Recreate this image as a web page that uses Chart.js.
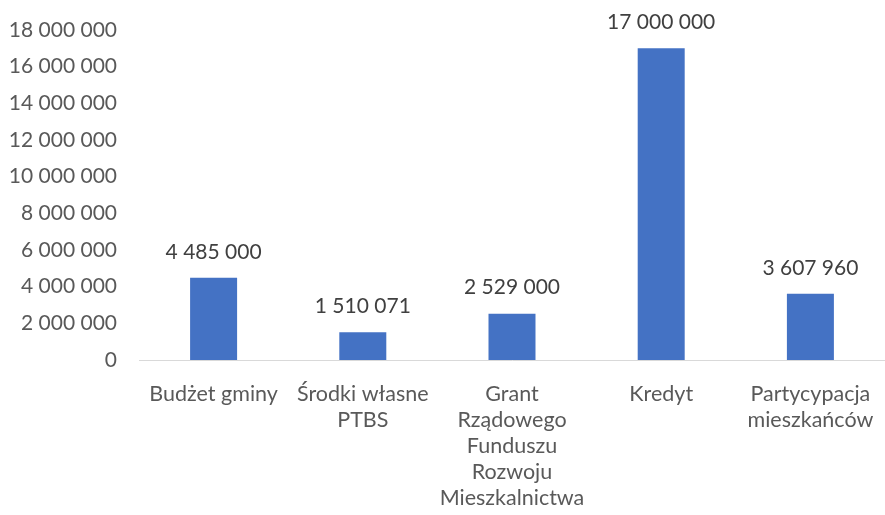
<!DOCTYPE html>
<html>
<head>
<meta charset="utf-8">
<script src="https://cdn.jsdelivr.net/npm/chart.js@4/dist/chart.umd.min.js"></script>
<style>
  html, body { margin: 0; padding: 0; background: #ffffff; }
  canvas { display: block; }
</style>
</head>
<body>
<canvas id="c" width="885" height="515"></canvas>
<script>
const categories = [
  ["Budżet gminy"],
  ["Środki własne", "PTBS"],
  ["Grant", "Rządowego", "Funduszu", "Rozwoju", "Mieszkalnictwa"],
  ["Kredyt"],
  ["Partycypacja", "mieszkańców"]
];
const values = [4485000, 1510071, 2529000, 17000000, 3607960];
const yTicks = [0, 2000000, 4000000, 6000000, 8000000, 10000000, 12000000, 14000000, 16000000, 18000000];

function fmt(v) {
  return String(Math.round(v)).replace(/\B(?=(\d{3})+(?!\d))/g, ' ');
}

const FONT = 'Lato, "Open Sans", sans-serif';

const dataLabels = {
  id: 'dataLabels',
  afterDatasetsDraw(chart) {
    const ctx = chart.ctx;
    ctx.save();
    ctx.font = '21px ' + FONT;
    ctx.fillStyle = '#404040';
    ctx.textAlign = 'center';
    ctx.textBaseline = 'middle';
    chart.data.datasets.forEach((ds, i) => {
      const meta = chart.getDatasetMeta(i);
      meta.data.forEach((el, j) => {
        ctx.fillText(fmt(ds.data[j]), el.x, el.y - 26);
      });
    });
    ctx.restore();
  }
};

new Chart(document.getElementById('c'), {
  type: 'bar',
  data: {
    labels: categories,
    datasets: [{
      data: values,
      backgroundColor: '#4472C4',
      borderWidth: 0,
      categoryPercentage: 1,
      barPercentage: 0.315
    }]
  },
  options: {
    responsive: false,
    animation: false,
    layout: { padding: { top: 30, left: 0, right: 0, bottom: 0 } },
    plugins: { legend: { display: false }, tooltip: { enabled: false } },
    scales: {
      x: {
        grid: { display: false, drawTicks: false },
        border: { display: true, color: '#d9d9d9', width: 1 },
        ticks: {
          color: '#595959',
          font: { family: FONT, size: 21.5, lineHeight: 1.21 },
          padding: 21,
          maxRotation: 0,
          autoSkip: false
        },
        afterFit(scale) {
          scale.height = 155;
          scale.paddingLeft = 0;
          scale.paddingRight = 0;
        }
      },
      y: {
        min: 0,
        max: 18000000,
        afterBuildTicks(scale) { scale.ticks = yTicks.map(v => ({ value: v })); },
        grid: { display: false, drawTicks: false },
        border: { display: false },
        ticks: {
          color: '#595959',
          font: { family: FONT, size: 21 },
          padding: 22,
          callback: (v) => fmt(v)
        },
        afterFit(scale) {
          scale.width = 139;
          scale.paddingTop = 0;
          scale.paddingBottom = 0;
        }
      }
    }
  },
  plugins: [dataLabels]
});
</script>
</body>
</html>
